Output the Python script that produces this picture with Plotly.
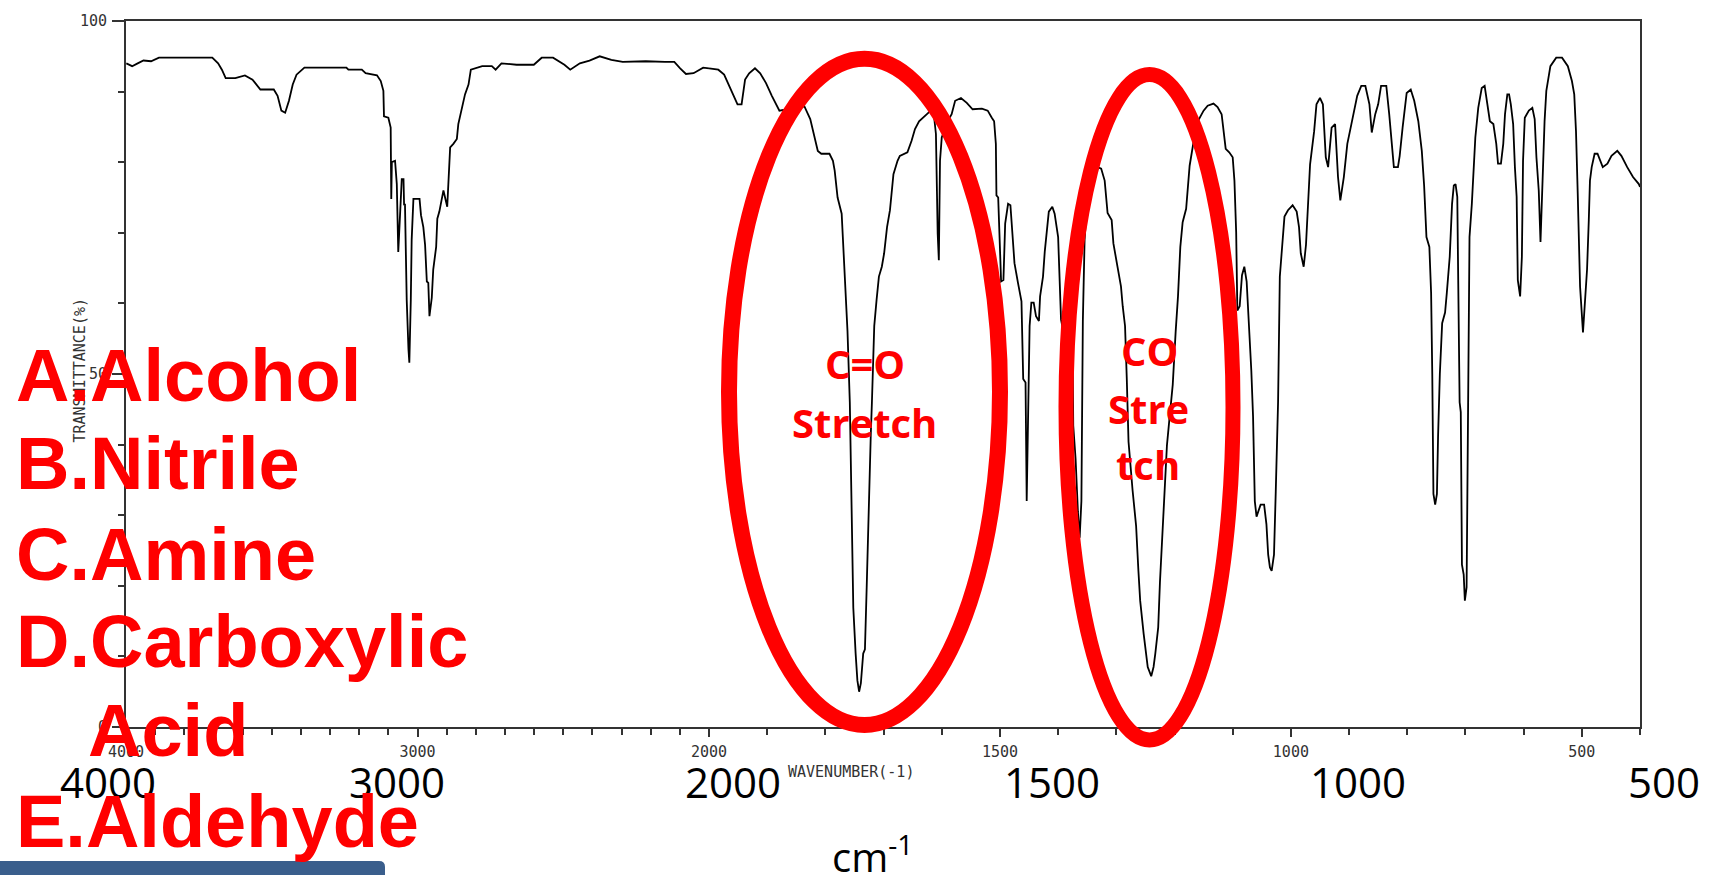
import plotly.graph_objects as go

# ---------------- data ----------------
# high-wavenumber segment, 4000 -> 2000 cm-1 (compressed half scale)
wn_high = [3999, 3979, 3960, 3940, 3914, 3887, 3704, 3684, 3671, 3658, 3625, 3592, 3566, 3539,
           3493, 3480, 3467, 3454, 3441, 3428, 3415, 3388, 3244, 3237, 3191, 3178, 3139, 3126,
           3117, 3115, 3100, 3092, 3090, 3088, 3077, 3071, 3066, 3060, 3054, 3048, 3046, 3043,
           3037, 3031, 3028, 3023, 3020, 3014, 2993, 2988, 2980, 2974, 2968, 2963, 2959, 2951,
           2946, 2936, 2932, 2925, 2917, 2911, 2898, 2894, 2888, 2877, 2865, 2860, 2854, 2843,
           2837, 2825, 2817, 2778, 2745, 2732, 2712, 2660, 2601, 2574, 2535, 2496, 2476, 2443,
           2410, 2375, 2335, 2296, 2217, 2151, 2119, 2099, 2079, 2053, 2020, 2000]
t_high = [94.0, 93.6, 94.0, 94.4, 94.3, 94.8, 94.8, 94.0, 93.1, 91.9, 91.9, 92.3, 91.7, 90.3,
          90.3, 89.4, 87.3, 87.0, 88.7, 91.0, 92.4, 93.4, 93.4, 93.1, 93.1, 92.6, 92.3, 91.5,
          90.1, 86.5, 86.3, 84.9, 74.8, 80.0, 80.2, 76.9, 67.3, 73.0, 77.6, 77.6, 73.9, 74.1,
          60.5, 53.5, 51.6, 60.5, 69.0, 74.8, 74.8, 72.5, 70.8, 68.3, 63.1, 62.9, 58.2, 60.8,
          64.8, 68.0, 72.0, 73.0, 74.8, 76.0, 73.7, 76.9, 82.1, 82.6, 83.3, 85.4, 86.5, 88.2,
          89.6, 91.0, 93.1, 93.6, 93.6, 93.1, 94.0, 93.8, 93.8, 94.8, 94.8, 93.8, 93.1, 94.0,
          94.4, 95.0, 94.5, 94.2, 94.3, 94.2, 94.2, 93.3, 92.5, 92.6, 93.4, 93.3]

# low-wavenumber segment, 2000 -> 400 cm-1
wn_low = [2000, 1984, 1974, 1964, 1951, 1944, 1938, 1931, 1921, 1912, 1902, 1892, 1879, 1860,
          1836, 1826, 1820, 1813, 1807, 1793, 1787, 1784, 1779, 1772, 1770, 1767, 1762, 1758,
          1755, 1752, 1748, 1745, 1742, 1739, 1735, 1732, 1729, 1726, 1722, 1720, 1716, 1712,
          1708, 1703, 1699, 1694, 1689, 1683, 1676, 1672, 1659, 1652, 1646, 1639, 1629, 1619,
          1613, 1610, 1607, 1605, 1603, 1600, 1590, 1583, 1577, 1567, 1557, 1547, 1531, 1521,
          1514, 1510, 1507, 1506, 1503, 1498, 1494, 1491, 1486, 1482, 1479, 1475, 1469, 1463,
          1460, 1456, 1454, 1450, 1449, 1446, 1442, 1438, 1433, 1431, 1426, 1423, 1419, 1416,
          1410, 1406, 1400, 1398, 1395, 1385, 1375, 1374, 1370, 1366, 1363, 1360, 1358.5, 1357.5,
          1354.5, 1351.6, 1346, 1340, 1332, 1326, 1320, 1317, 1315, 1308, 1305, 1298, 1292, 1289,
          1285, 1282, 1279, 1272, 1266, 1262, 1259, 1253, 1249, 1246, 1240, 1236, 1233, 1228,
          1225, 1221, 1218, 1213, 1210, 1203, 1198, 1194, 1190, 1186, 1180, 1174, 1166, 1160,
          1150, 1143, 1133, 1126, 1119, 1116, 1112, 1106, 1100, 1097, 1094, 1092, 1088, 1084,
          1080, 1076, 1072, 1068, 1065, 1062, 1059, 1052, 1046, 1042, 1039, 1036, 1033, 1029,
          1026, 1022, 1019, 1014, 1011, 1005, 997, 990, 986, 983, 978, 974, 970, 967,
          960, 956, 950, 945, 940, 936, 930, 924, 919, 915, 909, 903, 896, 886,
          879, 872, 865, 861, 855, 850, 845, 836, 831, 827, 823, 816, 813, 808,
          801, 794, 788, 781, 775, 771, 767, 762, 759, 757, 755, 752, 749, 747,
          744, 740, 735, 732, 727, 723, 720, 717, 714, 713, 710, 708, 706, 703,
          701, 698, 696, 694, 693, 689, 686, 683, 678, 672, 667, 662, 658, 652,
          647, 644, 639, 635, 632, 628, 625, 622, 618, 615, 612, 610, 606, 603,
          601, 598, 591, 585, 581, 578, 574, 571, 568, 564, 561, 554, 544, 534,
          524, 517, 513, 510, 507, 503, 498, 495, 491, 488, 486, 483, 478, 473,
          468, 464, 456, 449, 439, 432, 422, 412, 402, 400]
t_low = [93.3, 93.1, 92.4, 90.5, 88.2, 88.2, 91.7, 92.6, 93.3, 92.6, 91.2, 89.4, 87.3, 87.6,
         87.9, 86.1, 84.0, 81.6, 81.2, 81.2, 80.2, 78.8, 75.0, 72.7, 69.4, 63.8, 56.1, 46.0,
         32.4, 16.9, 10.4, 6.6, 5.0, 6.2, 10.4, 11.0, 19.8, 31.0, 41.3, 46.0, 56.8, 60.5,
         63.8, 65.2, 67.1, 70.8, 73.2, 78.3, 80.2, 80.9, 81.4, 83.0, 84.7, 85.8, 86.5, 87.3,
         86.3, 84.0, 69.9, 66.1, 80.2, 83.5, 85.8, 86.8, 88.7, 89.1, 88.4, 87.5, 87.6, 87.3,
         86.3, 85.8, 82.6, 75.3, 75.0, 63.1, 63.3, 71.3, 74.1, 73.9, 70.4, 65.7, 62.9, 60.3,
         49.3, 48.8, 32.0, 48.8, 56.8, 60.1, 60.1, 58.2, 57.5, 61.0, 63.8, 67.3, 70.6, 73.0,
         73.7, 72.7, 69.4, 63.8, 57.7, 53.5, 51.6, 42.7, 38.0, 30.5, 26.8, 32.0, 45.0, 57.5,
         69.0, 72.8, 76.5, 78.3, 79.3, 79.1, 77.4, 75.1, 72.8, 71.8, 68.5, 65.2, 62.4, 59.6,
         56.8, 49.3, 40.4, 33.5, 28.5, 22.1, 17.9, 13.2, 9.9, 8.5, 7.2, 8.5, 10.4, 14.1,
         20.5, 26.8, 31.9, 39.9, 42.5, 48.5, 56.0, 61.0, 68.0, 71.5, 73.4, 79.5, 83.5, 85.8,
         87.3, 88.0, 88.3, 87.8, 86.8, 84.4, 81.9, 81.4, 80.7, 77.4, 70.0, 59.0, 59.6, 64.0,
         65.2, 63.1, 57.0, 50.5, 44.0, 32.0, 29.8, 31.5, 31.5, 28.7, 24.4, 22.6, 22.1, 24.4,
         33.3, 46.0, 63.8, 69.4, 72.3, 73.2, 73.9, 73.0, 70.8, 67.1, 65.2, 68.3, 74.6, 79.7,
         84.4, 88.2, 89.1, 88.2, 80.7, 79.3, 84.9, 85.4, 77.9, 74.6, 77.9, 82.6, 85.4, 89.4,
         90.8, 90.8, 88.2, 84.2, 86.8, 88.2, 90.8, 90.8, 86.8, 83.0, 79.3, 79.3, 80.9, 84.9,
         89.8, 90.3, 88.7, 85.8, 81.6, 76.7, 69.4, 68.0, 61.5, 50.0, 33.0, 31.5, 33.0, 41.3,
         50.0, 57.2, 58.7, 61.5, 66.6, 74.1, 76.7, 76.9, 75.1, 67.6, 46.0, 44.6, 23.0, 21.6,
         17.9, 19.8, 43.2, 55.0, 69.4, 74.1, 79.3, 83.5, 87.7, 90.5, 90.8, 88.2, 85.8, 85.4,
         82.6, 79.8, 79.8, 82.6, 86.8, 89.6, 89.6, 88.2, 85.4, 79.3, 75.1, 63.3, 61.0, 66.6,
         80.2, 86.3, 87.3, 87.7, 86.1, 80.7, 76.0, 68.7, 76.5, 85.8, 90.1, 93.6, 94.8, 94.8,
         93.6, 91.5, 89.6, 84.4, 75.5, 62.4, 55.9, 60.1, 64.8, 71.8, 77.4, 79.3, 81.2, 81.2,
         80.2, 79.3, 79.8, 80.9, 81.6, 80.9, 79.3, 77.9, 76.9, 76.5]

# axis tick labels
ticks_high = [4000, 3000]
ticks_low = [2000, 1500, 1000, 500]
y_ticks = [0, 50, 100]

# slide overlay texts
big_tick_labels = ["4000", "3000", "2000", "1500", "1000", "500"]
choices = ["A.Alcohol", "B.Nitrile", "C.Amine", "D.Carboxylic", "Acid", "E.Aldehyde"]

# ---------------- layout geometry ----------------
W, H = 1718, 875
PL, PR, PT, PB = 126, 1640, 16, 727
split = 583 / (PR - PL)


def fx(x):
    return (x - PL) / (PR - PL)


def fy(y):
    return (PB - y) / (PB - PT)


fig = go.Figure()
line_style = dict(color="black", width=1.8)
fig.add_trace(go.Scatter(x=wn_high, y=t_high, mode="lines", line=line_style,
                         xaxis="x", yaxis="y", showlegend=False, hoverinfo="skip"))
fig.add_trace(go.Scatter(x=wn_low, y=t_low, mode="lines", line=line_style,
                         xaxis="x2", yaxis="y2", showlegend=False, hoverinfo="skip"))

tick_font = dict(family="DejaVu Sans Mono", size=15, color="#333")
axis_common = dict(showgrid=False, zeroline=False, showline=True, linecolor="#333",
                   linewidth=2, mirror=True, ticks="outside", ticklen=8, tickwidth=1.5,
                   tickcolor="#333", tickfont=tick_font, tickmode="array",
                   ticklabelstandoff=2)

fig.update_layout(
    width=W, height=H,
    margin=dict(l=PL, r=W - PR, t=PT, b=H - PB),
    paper_bgcolor="white", plot_bgcolor="white",
    xaxis=dict(domain=[0, split], range=[4000, 2000], tickvals=ticks_high,
               ticktext=[str(v) for v in ticks_high],
               minor=dict(tickmode="linear", tick0=0, dtick=100, ticks="outside",
                          ticklen=6, tickcolor="#333", tickwidth=1.5),
               anchor="y", **axis_common),
    xaxis2=dict(domain=[split, 1], range=[2000, 400], tickvals=ticks_low,
                ticktext=[str(v) for v in ticks_low],
                minor=dict(tickmode="linear", tick0=0, dtick=100, ticks="outside",
                           ticklen=6, tickcolor="#333", tickwidth=1.5),
                anchor="y", **axis_common),
    yaxis=dict(domain=[0, 1], range=[0, 100], showgrid=False, zeroline=False,
               showline=True, linecolor="#333", linewidth=2, mirror=False,
               ticks="outside", ticklen=12, tickwidth=1.5, tickcolor="#333",
               tickmode="array", tickvals=y_ticks, ticktext=[str(v) for v in y_ticks],
               tickfont=tick_font, ticklabelstandoff=2,
               minor=dict(tickmode="linear", tick0=0, dtick=10, ticks="outside",
                          ticklen=6, tickcolor="#333", tickwidth=1.5),
               anchor="x"),
    yaxis2=dict(domain=[0, 1], range=[0, 100], overlaying="y", anchor="x2", side="right",
                showgrid=False, zeroline=False, showline=True, linecolor="#333",
                linewidth=2, ticks="", showticklabels=False),
)

ann = []
small_font = dict(family="DejaVu Sans Mono", size=15, color="#333")
# y axis title (rotated, small printer-style font)
ann.append(dict(x=fx(69), y=fy(368), xref="paper", yref="paper", text="TRANSMITTANCE(%)",
                textangle=-90, showarrow=False, font=small_font))
# x axis small title
ann.append(dict(x=fx(851), y=fy(772), xref="paper", yref="paper", text="WAVENUMBER(-1)",
                showarrow=False, xanchor="center", yanchor="middle", font=small_font))

# big overlay tick labels
big_pos = [108, 397, 733, 1052, 1358, 1664]
for lab, xp in zip(big_tick_labels, big_pos):
    ann.append(dict(x=fx(xp), y=fy(782), xref="paper", yref="paper", text=lab,
                    showarrow=False, xanchor="center", yanchor="middle",
                    font=dict(family="Open Sans", size=42, color="black")))
ann.append(dict(x=fx(872), y=fy(855), xref="paper", yref="paper", text="cm<sup>-1</sup>",
                showarrow=False, xanchor="center", yanchor="middle",
                font=dict(family="Open Sans", size=40, color="black")))

# red stretch labels
red_bold = dict(family="Open Sans", size=40, color="#FF0000", weight="bold")
for txt, xp, yp in [("C=O", 865, 361), ("Stretch", 864, 420),
                    ("CO", 1149, 348), ("Stre", 1148, 406), ("tch", 1148, 463)]:
    ann.append(dict(x=fx(xp), y=fy(yp), xref="paper", yref="paper", text=f"<b>{txt}</b>",
                    showarrow=False, xanchor="center", yanchor="middle", font=red_bold))

# multiple-choice list
choice_x = [14, 14, 14, 14, 86, 14]
choice_y = [373, 462, 553, 641, 731, 822]
for txt, xp, yp in zip(choices, choice_x, choice_y):
    ann.append(dict(x=fx(xp), y=fy(yp), xref="paper", yref="paper", text=f"<b>{txt}</b>",
                    showarrow=False, xanchor="left", yanchor="middle",
                    font=dict(family="Liberation Sans", size=74, color="#FF0000")))
fig.update_layout(annotations=ann)

# red ellipses and the blue footer bar
shapes = [
    dict(type="circle", xref="paper", yref="paper", x0=fx(729), x1=fx(1000), y0=fy(725),
         y1=fy(54), line=dict(color="#FF0000", width=16), layer="above"),
    dict(type="circle", xref="paper", yref="paper", x0=fx(1066), x1=fx(1233), y0=fy(740),
         y1=fy(70), line=dict(color="#FF0000", width=15), layer="above"),
]
r = 6
bar_path = (f"M {fx(0)},{fy(880)} L {fx(0)},{fy(862)} L {fx(385 - r)},{fy(862)} "
            f"Q {fx(385)},{fy(862)} {fx(385)},{fy(862 + r)} L {fx(385)},{fy(880)} Z")
shapes.append(dict(type="path", xref="paper", yref="paper", path=bar_path,
                   fillcolor="#3A5E8C", line=dict(width=0), layer="above"))
fig.update_layout(shapes=shapes)

fig.write_html("out.html")
